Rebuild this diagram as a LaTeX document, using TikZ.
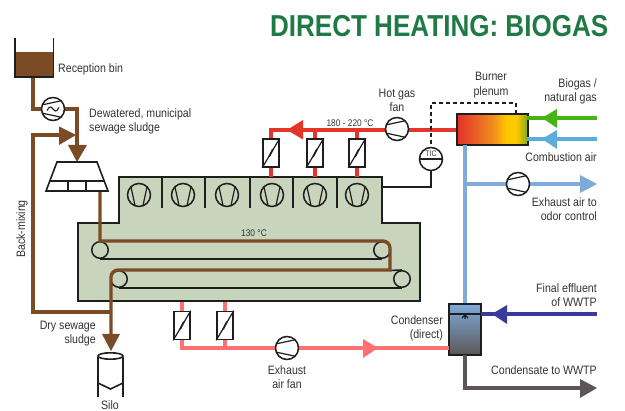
\documentclass[tikz,border=0pt]{standalone}
\usepackage{fontspec}
\setmainfont[FakeStretch=0.87]{Liberation Sans}
\newfontfamily\ttlfont[FakeStretch=0.86]{Liberation Sans}
\usetikzlibrary{calc}
\definecolor{brn}{HTML}{7A4B24}
\definecolor{ink}{HTML}{1E1E1E}
\definecolor{lbl}{HTML}{333333}
\definecolor{dry}{HTML}{C8D4BC}
\definecolor{redp}{HTML}{E5352B}
\definecolor{grnp}{HTML}{45B414}
\definecolor{cyanp}{HTML}{5AAEDB}
\definecolor{bluep}{HTML}{7EABDB}
\definecolor{navyp}{HTML}{3A3A98}
\definecolor{pinkp}{HTML}{FF7072}
\definecolor{grayp}{HTML}{5C5657}
\definecolor{ttl}{HTML}{1F7A45}
\definecolor{bmid}{HTML}{F08A1E}
\definecolor{byel}{HTML}{FFC800}
\definecolor{bgrn}{HTML}{7FA81A}
\pgfdeclarehorizontalshading{burnershade}{100bp}{
  color(0bp)=(redp);
  color(26bp)=(redp);
  color(50bp)=(bmid);
  color(60bp)=(byel);
  color(67bp)=(byel);
  color(75bp)=(bgrn);
  color(100bp)=(bgrn)}
\tikzset{
  pipe/.style={line width=3.3pt},
  black line/.style={draw=ink,line width=1.6pt},
  roller/.style={circle,draw=ink,line width=1.5pt,minimum size=16.5pt,inner sep=0pt},
  lab/.style={text=lbl,font=\fontsize{12.2}{14}\selectfont,align=center,inner sep=0pt},
  labr/.style={lab,align=right,anchor=east},
  labl/.style={lab,align=left,anchor=west},
  tiny lab/.style={text=lbl,font=\fontsize{9.6}{10}\selectfont,inner sep=0pt},
  fan ring/.style={circle,draw=ink,line width=1.5pt,minimum size=23pt,inner sep=0pt,fill=white},
  damper box/.style={rectangle,draw=ink,line width=1.6pt,minimum width=16pt,minimum height=28pt,inner sep=0pt,fill=white},
}
% horizontal fan: wide towards the right
\newcommand{\hfan}[2]{%
  \node[fan ring] (#1) at (#2) {};
  \draw[draw=ink,line width=1.2pt] ($(#1)+(-10.5,-4.2)$) -- ($(#1)+(8,-8.2)$);
  \draw[draw=ink,line width=1.2pt] ($(#1)+(-10.5,4.2)$) -- ($(#1)+(8,8.2)$);
}
% vertical fan: wide at the top
\newcommand{\vfan}[2]{%
  \node[fan ring,fill=none] (#1) at (#2) {};
  \draw[draw=ink,line width=1.2pt] ($(#1)+(-8,-8)$) -- ($(#1)+(-4,10.5)$);
  \draw[draw=ink,line width=1.2pt] ($(#1)+(8,-8)$) -- ($(#1)+(4,10.5)$);
}
\newcommand{\dampr}[2]{%
  \node[damper box] (#1) at (#2) {};
  \draw[draw=ink,line width=1.2pt] (#1.south west) -- (#1.north east);
  \fill[ink] ($(#1)+(-2.6,3.4)$) -- ($(#1)+(-1.2,4.2)$) -- ($(#1)+(2.6,-3.4)$) -- ($(#1)+(1.2,-4.2)$) -- cycle;
}
\begin{document}
\begin{tikzpicture}[x=1pt,y=-1pt]
\useasboundingbox (0,0) rectangle (625,411);

% named points
\coordinate (binout) at (33,77);
\coordinate (binelbow) at (33,109);
\coordinate (pmpelbow) at (77,109);
\coordinate (hoptip) at (77,162);
\coordinate (bmTop) at (33,135);
\coordinate (bmTip) at (76,135);
\coordinate (bmLow) at (33,312);
\coordinate (bmJoin) at (111,312);
\coordinate (hopout) at (100,191);
\coordinate (silotip) at (111,351);

% title
\node[text=ttl,anchor=base east,inner sep=0pt,font=\ttlfont\bfseries\fontsize{30.3}{31}\selectfont] (title) at (608.5,37) {DIRECT HEATING: BIOGAS};

% dryer body
\path[fill=dry,draw=ink,line width=1.8pt] (119,177) -- (382,177) -- (382,223) -- (420,223) -- (420,301) -- (78,301) -- (78,223) -- (119,223) -- cycle;
\foreach \x in {162,205,250,293,337}{\draw[black line] (\x,177) -- (\x,208);}
\vfan{f1}{139,195}
\vfan{f2}{183,195}
\vfan{f3}{227,195}
\vfan{f4}{272,195}
\vfan{f5}{315,195}
\vfan{f6}{357,195}
\node[tiny lab] (t130) at (254,233) {130 °C};

% conveyors
\node[roller] (r1) at (100,250) {};
\node[roller] (r2) at (382,250) {};
\node[roller] (r3) at (119,279) {};
\node[roller] (r4) at (402,279) {};
\draw[black line] (r1.south) -- (r2.south);
\draw[black line] (r3.south) -- (r4.south);
\draw[black line] (390,270.5) -- (r4.north);

% sludge line
\draw[brn,pipe,line join=miter] (binout) -- (binelbow) -- (pmpelbow) -- (77,146);
\fill[brn] (68,145) -- (87,145) -- (hoptip) -- cycle;
\draw[brn,pipe,line join=miter] (bmJoin) -- (bmLow) -- (bmTop) -- (60,135);
\fill[brn] (59,126.5) -- (bmTip) -- (59,145) -- cycle;
\draw[brn,pipe,line join=miter] (hopout) -- (100,241) -- (383,241) arc[start angle=-90,end angle=0,radius=7] -- (390,270) -- (118,270) arc[start angle=-90,end angle=-180,radius=7] -- (111,335);
\fill[brn] (102,334) -- (120,334) -- (silotip) -- cycle;
\hfan{pump}{53,109}
\draw[ink,line width=1.1pt] (47,110.5) .. controls (50,105) and (51,107) .. (53,109) .. controls (55,111) and (56,113) .. (59,107.5);

% bin
\fill[brn] (15,52) rectangle (53.5,77);
\draw[black line,line width=1.8pt,line join=miter] (15,38) -- (15,77) -- (53.5,77) -- (53.5,38);
\node[labl] (lbin) at (58,69) {Reception bin};
\node[labl] (lsludge) at (89,121) {Dewatered, municipal\\sewage sludge};

% hopper
\path[black line,line join=miter] (57,162) -- (97,162) -- (108,191) -- (46,191) -- cycle;
\draw[black line] (49.5,181) -- (104.5,181);
\draw[black line] (68,181) -- (68,191);
\draw[black line] (86,181) -- (86,191);

\node[lab,rotate=90] (lback) at (22,229) {Back-mixing};
\node[labr] (ldry) at (96,334) {Dry sewage\\sludge};

% silo
\draw[black line] (98,357) -- (98,397);
\draw[black line] (123,357) -- (123,397);
\draw[black line] (110.5,356) ellipse (12.5 and 3.2);
\draw[black line,line join=miter] (98,383) -- (110.5,389) -- (123,383);
\node[lab] (lsilo) at (110,405) {Silo};

% red hot gas duct
\coordinate (redcorner) at (271,130);
\coordinate (dt1) at (271,177);
\coordinate (dt2) at (315,177);
\coordinate (dt3) at (357,177);
\draw[redp,pipe,line join=miter] (dt1) -- (redcorner) -- (457,130);
\draw[redp,pipe] (dt2) -- (315,130);
\draw[redp,pipe] (dt3) -- (357,130);
\fill[redp] (303,120) -- (287,130) -- (303,139.5) -- cycle;
\dampr{d1}{271,153}
\dampr{d2}{315,153}
\dampr{d3}{357,153}
\hfan{hgf}{397,129}
\node[tiny lab] (t180) at (350,123) {180 - 220 °C};
\node[lab] (lhot) at (397,100) {Hot gas\\fan};
\node[lab] (lburn) at (491,85) {Burner\\[1.5pt]plenum};

% burner
\node[rectangle,minimum width=70pt,minimum height=31pt,inner sep=0pt] (burner) at (492.5,129.5) {};
\shade[shading=burnershade] (burner.south west) rectangle (burner.north east);
\draw[draw=ink,line width=1.8pt] (burner.south west) rectangle (burner.north east);

% gases
\coordinate (gasin) at (597,118);
\coordinate (airin) at (597,139);
\draw[grnp,pipe] (gasin) -- (527,118);
\fill[grnp] (557,109) -- (542,118) -- (557,128) -- cycle;
\draw[cyanp,pipe] (airin) -- (527,139);
\fill[cyanp] (557,130) -- (542,139) -- (557,149) -- cycle;
\node[labr] (lbio) at (597,91.5) {Biogas /\\natural gas};
\node[labr] (lcomb) at (597,157) {Combustion air};

% control
\node[fan ring] (tic) at (431,159) {};
\draw[black line] (tic.west) -- (tic.east);
\node[inner sep=0pt,text=lbl,font=\fontsize{8}{8}\selectfont] (tictxt) at (431,154) {TIC};
\draw[draw=ink,line width=1.5pt,dash pattern=on 4pt off 3pt] (516,114) -- (516,103) -- (431,103) -- (tic.north);
\draw[draw=ink,line width=1.3pt] (tic.south) -- (431,187) -- (382,187);

% exhaust to condenser
\node[rectangle,minimum width=32pt,minimum height=51pt,inner sep=0pt] (cond) at (465,329.5) {};
\draw[bluep,pipe] (465,145) -- (cond.north);
\coordinate (exend) at (597,184);
\draw[bluep,pipe] (465,184) -- (582,184);
\fill[bluep] (580,175) -- (exend) -- (580,193) -- cycle;
\hfan{exf}{518,184}
\node[labr] (lexh) at (597,209) {Exhaust air to\\odor control};

\shade[top color=bluep,bottom color=grayp] (cond.south west) rectangle (cond.north east);
\draw[draw=ink,line width=1.8pt] (cond.south west) rectangle (cond.north east);
\draw[black line] (449,314) -- (481,314);
\draw[ink,line width=1.4pt] (462,318) -- (465,315) -- (468,318) (465,315) -- (465,319);

\coordinate (effin) at (597,314);
\draw[navyp,pipe] (effin) -- (cond.east |- effin);
\fill[navyp] (507,305) -- (492,314) -- (507,324) -- cycle;
\node[labr] (leff) at (597,295.5) {Final effluent\\of WWTP};
\node[labr] (lcond) at (443,328) {Condenser\\(direct)};

\coordinate (condend) at (597,388);
\draw[grayp,pipe,line join=miter] (cond.south) -- (465,388) -- (582,388);
\fill[grayp] (580,379) -- (condend) -- (580,398) -- cycle;
\node[labr] (lcnd) at (597,370) {Condensate to WWTP};

% exhaust air
\coordinate (pinkcorner) at (182,348);
\draw[pinkp,pipe,line join=miter] (182,302) -- (pinkcorner) -- (cond.west |- pinkcorner);
\draw[pinkp,pipe] (225,302) -- (225,348);
\fill[pinkp] (363,339) -- (378,348) -- (363,358) -- cycle;
\dampr{d4}{182,325.5}
\dampr{d5}{225,325.5}
\hfan{eaf}{287,348}
\node[lab] (leaf) at (287,377) {Exhaust\\air fan};
\end{tikzpicture}
\end{document}
